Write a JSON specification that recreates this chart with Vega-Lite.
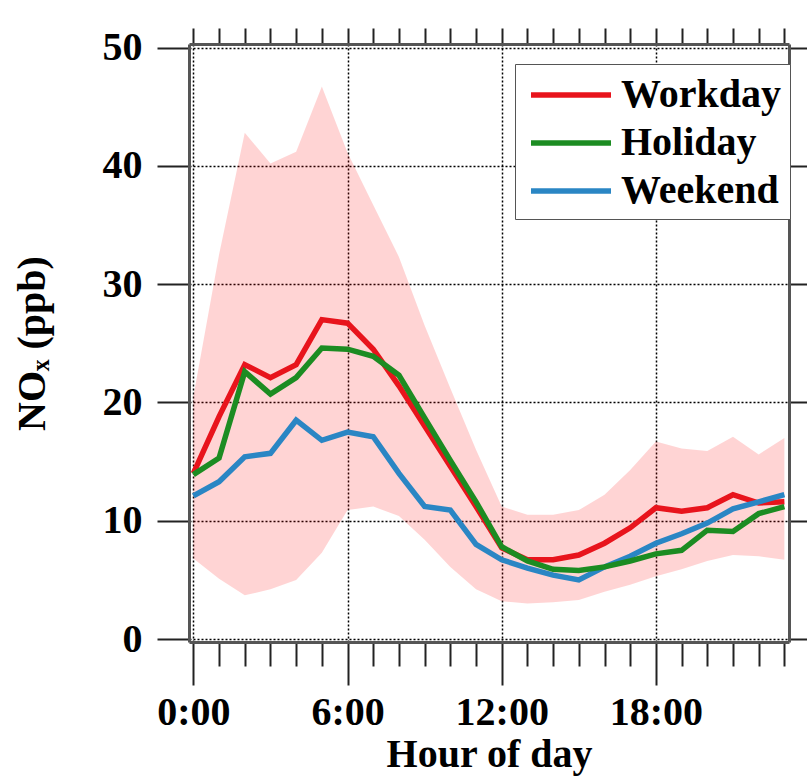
{
  "$schema": "https://vega.github.io/schema/vega-lite/v6.json",
  "width": 600,
  "height": 598,
  "autosize": "none",
  "padding": {"left": 189, "top": 44, "right": 18, "bottom": 136},
  "background": "white",
  "config": {"view": {"stroke": null}, "font": "Liberation Serif"},
  "datasets": {
    "band": [
      {"hour": 0, "upper": 20.5, "lower": 6.8},
      {"hour": 1, "upper": 32.5, "lower": 5.1},
      {"hour": 2, "upper": 42.8, "lower": 3.7},
      {"hour": 3, "upper": 40.2, "lower": 4.2},
      {"hour": 4, "upper": 41.2, "lower": 5.0},
      {"hour": 5, "upper": 46.7, "lower": 7.3},
      {"hour": 6, "upper": 41.1, "lower": 10.9},
      {"hour": 7, "upper": 36.7, "lower": 11.2},
      {"hour": 8, "upper": 32.3, "lower": 10.4},
      {"hour": 9, "upper": 26.5, "lower": 8.4},
      {"hour": 10, "upper": 21.2, "lower": 6.1},
      {"hour": 11, "upper": 16.0, "lower": 4.2},
      {"hour": 12, "upper": 11.2, "lower": 3.2},
      {"hour": 13, "upper": 10.5, "lower": 3.0},
      {"hour": 14, "upper": 10.5, "lower": 3.1},
      {"hour": 15, "upper": 10.9, "lower": 3.3},
      {"hour": 16, "upper": 12.2, "lower": 4.0},
      {"hour": 17, "upper": 14.3, "lower": 4.6},
      {"hour": 18, "upper": 16.7, "lower": 5.3},
      {"hour": 19, "upper": 16.1, "lower": 5.9},
      {"hour": 20, "upper": 15.9, "lower": 6.6},
      {"hour": 21, "upper": 17.1, "lower": 7.1},
      {"hour": 22, "upper": 15.6, "lower": 7.0},
      {"hour": 23, "upper": 17.0, "lower": 6.7}
    ],
    "lines": [
      {"hour": 0, "type": "Workday", "nox": 14.0},
      {"hour": 1, "type": "Workday", "nox": 18.8},
      {"hour": 2, "type": "Workday", "nox": 23.2},
      {"hour": 3, "type": "Workday", "nox": 22.1},
      {"hour": 4, "type": "Workday", "nox": 23.2},
      {"hour": 5, "type": "Workday", "nox": 27.0},
      {"hour": 6, "type": "Workday", "nox": 26.7},
      {"hour": 7, "type": "Workday", "nox": 24.5},
      {"hour": 8, "type": "Workday", "nox": 21.4},
      {"hour": 9, "type": "Workday", "nox": 18.0},
      {"hour": 10, "type": "Workday", "nox": 14.6},
      {"hour": 11, "type": "Workday", "nox": 11.2},
      {"hour": 12, "type": "Workday", "nox": 7.7},
      {"hour": 13, "type": "Workday", "nox": 6.7},
      {"hour": 14, "type": "Workday", "nox": 6.7},
      {"hour": 15, "type": "Workday", "nox": 7.1},
      {"hour": 16, "type": "Workday", "nox": 8.1},
      {"hour": 17, "type": "Workday", "nox": 9.4},
      {"hour": 18, "type": "Workday", "nox": 11.1},
      {"hour": 19, "type": "Workday", "nox": 10.8},
      {"hour": 20, "type": "Workday", "nox": 11.1},
      {"hour": 21, "type": "Workday", "nox": 12.2},
      {"hour": 22, "type": "Workday", "nox": 11.5},
      {"hour": 23, "type": "Workday", "nox": 11.6},
      {"hour": 0, "type": "Weekend", "nox": 12.1},
      {"hour": 1, "type": "Weekend", "nox": 13.3},
      {"hour": 2, "type": "Weekend", "nox": 15.4},
      {"hour": 3, "type": "Weekend", "nox": 15.7},
      {"hour": 4, "type": "Weekend", "nox": 18.5},
      {"hour": 5, "type": "Weekend", "nox": 16.8},
      {"hour": 6, "type": "Weekend", "nox": 17.5},
      {"hour": 7, "type": "Weekend", "nox": 17.1},
      {"hour": 8, "type": "Weekend", "nox": 14.0},
      {"hour": 9, "type": "Weekend", "nox": 11.2},
      {"hour": 10, "type": "Weekend", "nox": 10.9},
      {"hour": 11, "type": "Weekend", "nox": 8.0},
      {"hour": 12, "type": "Weekend", "nox": 6.7},
      {"hour": 13, "type": "Weekend", "nox": 6.0},
      {"hour": 14, "type": "Weekend", "nox": 5.4},
      {"hour": 15, "type": "Weekend", "nox": 5.0},
      {"hour": 16, "type": "Weekend", "nox": 6.1},
      {"hour": 17, "type": "Weekend", "nox": 7.0},
      {"hour": 18, "type": "Weekend", "nox": 8.1},
      {"hour": 19, "type": "Weekend", "nox": 8.9},
      {"hour": 20, "type": "Weekend", "nox": 9.8},
      {"hour": 21, "type": "Weekend", "nox": 11.0},
      {"hour": 22, "type": "Weekend", "nox": 11.6},
      {"hour": 23, "type": "Weekend", "nox": 12.2},
      {"hour": 0, "type": "Holiday", "nox": 13.9},
      {"hour": 1, "type": "Holiday", "nox": 15.3},
      {"hour": 2, "type": "Holiday", "nox": 22.6},
      {"hour": 3, "type": "Holiday", "nox": 20.7},
      {"hour": 4, "type": "Holiday", "nox": 22.1},
      {"hour": 5, "type": "Holiday", "nox": 24.6},
      {"hour": 6, "type": "Holiday", "nox": 24.5},
      {"hour": 7, "type": "Holiday", "nox": 23.9},
      {"hour": 8, "type": "Holiday", "nox": 22.3},
      {"hour": 9, "type": "Holiday", "nox": 18.7},
      {"hour": 10, "type": "Holiday", "nox": 15.1},
      {"hour": 11, "type": "Holiday", "nox": 11.6},
      {"hour": 12, "type": "Holiday", "nox": 7.8},
      {"hour": 13, "type": "Holiday", "nox": 6.6},
      {"hour": 14, "type": "Holiday", "nox": 5.9},
      {"hour": 15, "type": "Holiday", "nox": 5.8},
      {"hour": 16, "type": "Holiday", "nox": 6.1},
      {"hour": 17, "type": "Holiday", "nox": 6.6},
      {"hour": 18, "type": "Holiday", "nox": 7.2},
      {"hour": 19, "type": "Holiday", "nox": 7.5},
      {"hour": 20, "type": "Holiday", "nox": 9.2},
      {"hour": 21, "type": "Holiday", "nox": 9.1},
      {"hour": 22, "type": "Holiday", "nox": 10.6},
      {"hour": 23, "type": "Holiday", "nox": 11.2}
    ]
  },
  "layer": [
    {
      "data": {"name": "band"},
      "mark": {"type": "area", "color": "#ff0000", "opacity": 0.17},
      "encoding": {
        "x": {
          "field": "hour", "type": "quantitative",
          "scale": {"domain": [-0.17, 23.18], "nice": false, "zero": false},
          "axis": {
            "orient": "bottom",
            "values": [0,1,2,3,4,5,6,7,8,9,10,11,12,13,14,15,16,17,18,19,20,21,22,23],
            "labelExpr": "datum.value % 6 === 0 ? datum.value + ':00' : ''",
            "labelOverlap": false,
            "labelFlush": false,
            "labelFont": "Liberation Serif",
            "labelFontSize": 40,
            "labelFontWeight": "bold",
            "labelColor": "black",
            "labelPadding": 26,
            "tickSize": 24,
            "tickColor": "#222",
            "tickWidth": 2,
            "encoding": {"ticks": {"y2": {"condition": {"test": "datum.value % 6 === 0", "value": 43}, "value": 24}}},
            "grid": true,
            "gridColor": "black",
            "gridDash": [2, 2],
            "gridWidth": 1.5,
            "gridOpacity": {"condition": {"test": "datum.value % 6 === 0", "value": 1}, "value": 0},
            "domainColor": "#555",
            "domainWidth": 3,
            "title": "Hour of day",
            "titleFont": "Liberation Serif",
            "titleFontSize": 40,
            "titleFontWeight": "bold",
            "titleColor": "black",
            "titlePadding": 2
          }
        },
        "y": {
          "field": "upper", "type": "quantitative",
          "scale": {"domain": [-0.25, 50.3], "nice": false, "zero": false},
          "axis": {
            "orient": "left",
            "values": [0, 10, 20, 30, 40, 50],
            "labelFont": "Liberation Serif",
            "labelFontSize": 40,
            "labelFontWeight": "bold",
            "labelColor": "black",
            "labelPadding": 15,
            "tickSize": 32,
            "tickColor": "#222",
            "tickWidth": 2,
            "grid": true,
            "gridColor": "black",
            "gridDash": [2, 2],
            "gridWidth": 1.5,
            "domainColor": "#555",
            "domainWidth": 3,
            "title": "NOₓ (ppb)",
            "titleFont": "Liberation Serif",
            "titleFontSize": 40,
            "titleFontWeight": "bold",
            "titleColor": "black",
            "titlePadding": 50
          }
        },
        "y2": {"field": "lower"}
      }
    },
    {
      "data": {"name": "lines"},
      "mark": {"type": "line", "strokeWidth": 5.5},
      "encoding": {
        "x": {
          "field": "hour", "type": "quantitative",
          "scale": {"domain": [-0.17, 23.18], "nice": false, "zero": false},
          "axis": {
            "orient": "top",
            "values": [0,1,2,3,4,5,6,7,8,9,10,11,12,13,14,15,16,17,18,19,20,21,22,23],
            "labels": false,
            "grid": false,
            "tickSize": 16,
            "tickColor": "#222",
            "tickWidth": 2,
            "domainColor": "#555",
            "domainWidth": 3,
            "title": null
          }
        },
        "y": {
          "field": "nox", "type": "quantitative",
          "scale": {"domain": [-0.25, 50.3], "nice": false, "zero": false},
          "axis": {
            "orient": "right",
            "values": [0, 10, 20, 30, 40, 50],
            "labels": false,
            "grid": false,
            "tickSize": 22,
            "tickColor": "#222",
            "tickWidth": 2,
            "domainColor": "#555",
            "domainWidth": 3,
            "title": null
          }
        },
        "color": {
          "field": "type", "type": "nominal",
          "scale": {"domain": ["Workday", "Holiday", "Weekend"], "range": ["#e8141c", "#1c8c22", "#2a86c4"]},
          "legend": {
            "orient": "none",
            "legendX": 326,
            "legendY": 20,
            "title": null,
            "fillColor": "white",
            "strokeColor": "#555",
            "padding": 8,
            "symbolType": "M-0.75,0L3.25,0",
            "symbolSize": 1600,
            "symbolStrokeWidth": 5.5,
            "labelFont": "Liberation Serif",
            "labelFontSize": 40,
            "labelFontWeight": "bold",
            "labelColor": "black",
            "labelOffset": 52,
            "labelLimit": 400,
            "rowPadding": 5
          }
        }
      }
    }
  ],
  "resolve": {"axis": {"x": "independent", "y": "independent"}}
}
